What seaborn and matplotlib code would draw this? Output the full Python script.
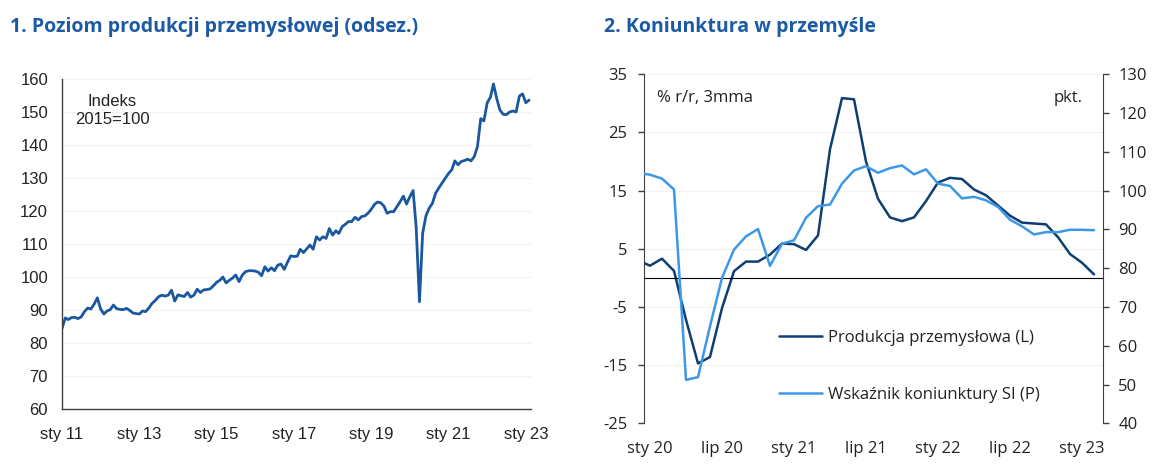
import numpy as np
import pandas as pd
import matplotlib
matplotlib.use("Agg")
import matplotlib.pyplot as plt
import seaborn as sns

# --- chart 1: industrial production index (sa), 2015=100, monthly from Jan 2011
prod_index = [
    84.4, 87.6, 87.1, 87.7, 87.8, 87.4, 87.9, 89.5, 90.6, 90.3, 91.8, 93.7,   # 2011
    90.3, 88.8, 89.7, 90.1, 91.5, 90.4, 90.2, 90.1, 90.5, 89.9, 89.1, 88.9,   # 2012
    88.8, 89.7, 89.5, 90.6, 92.0, 92.9, 94.0, 94.5, 94.2, 94.5, 96.0, 92.7,   # 2013
    94.6, 94.3, 94.1, 95.3, 93.9, 94.5, 96.3, 95.3, 96.1, 96.2, 96.4, 97.3,   # 2014
    98.4, 99.0, 100.0, 98.2, 99.0, 99.7, 100.6, 98.6, 100.6, 101.6, 101.9, 101.9,  # 2015
    101.8, 101.4, 100.4, 103.1, 101.8, 102.8, 101.9, 103.6, 103.9, 102.3, 104.5, 106.4,  # 2016
    106.2, 106.3, 108.4, 107.4, 108.5, 109.7, 108.4, 112.2, 111.2, 112.2, 111.7, 114.7,  # 2017
    112.7, 114.0, 113.2, 115.2, 116.0, 116.8, 116.8, 118.1, 117.3, 118.3, 118.5, 119.3,  # 2018
    120.5, 122.0, 122.7, 122.5, 121.5, 119.3, 119.8, 119.8, 121.3, 122.8, 124.5, 122.1,  # 2019
    124.3, 126.2, 115.0, 92.5, 113.2, 118.5, 120.8, 122.3, 125.4, 127.0, 128.5, 129.9,  # 2020
    131.4, 132.5, 135.2, 134.0, 135.0, 135.3, 135.7, 135.2, 136.5, 139.5, 148.0, 147.3,  # 2021
    152.8, 154.5, 158.5, 154.1, 150.6, 149.3, 149.2, 150.0, 150.3, 150.0, 154.8, 155.5,  # 2022
    152.8, 153.6,  # 2023
]
prod_dates = pd.date_range("2011-01-01", periods=len(prod_index), freq="MS")
left_tick_years = [2011, 2013, 2015, 2017, 2019, 2021, 2023]
left_tick_labels = ["sty 11", "sty 13", "sty 15", "sty 17", "sty 19", "sty 21", "sty 23"]

# --- chart 2: production y/y 3mma (L) and sentiment SI (P), monthly Dec 2019 - Feb 2023
month_idx = np.arange(-1, 38)  # 0 = Jan 2020
prod_yoy = [3.0, 2.1, 3.3, 1.2, -7.2, -14.7, -13.6, -5.2, 1.15, 2.8, 2.8, 4.0,
            5.9, 5.8, 4.8, 7.3, 22.1, 30.9, 30.7, 20.0, 13.6, 10.4, 9.75, 10.4,
            13.2, 16.4, 17.2, 17.0, 15.2, 14.2, 12.45, 10.7, 9.5, 9.35, 9.2, 7.0,
            4.1, 2.6, 0.6]
si_index = [104.6, 104.1, 103.1, 100.3, 51.2, 51.9, 65.0, 77.5, 84.8, 88.2, 90.1, 80.6,
            86.3, 87.2, 93.0, 96.0, 96.4, 101.8, 105.2, 106.3, 104.6, 105.8, 106.5, 104.2,
            105.5, 101.8, 101.2, 98.0, 98.4, 97.5, 95.8, 92.5, 90.8, 88.7, 89.3, 89.3,
            89.9, 89.9, 89.8]
right_tick_pos = [0, 6, 12, 18, 24, 30, 36]
right_tick_labels = ["sty 20", "lip 20", "sty 21", "lip 21", "sty 22", "lip 22", "sty 23"]

TITLE_C = "#1c5aa5"
LINE1 = "#1b579f"
DARK = "#0e3e72"
LIGHT = "#3d98e8"
AX_C = "#404040"
W, H = 1170, 470

sns.set_style("white")
plt.rcParams["font.family"] = ["Open Sans", "DejaVu Sans"]
plt.rcParams["axes.unicode_minus"] = False

fig = plt.figure(figsize=(W / 100, H / 100), dpi=100)

# ---------------- left chart
ax1 = fig.add_axes([62 / W, 1 - 409 / H, 469 / W, 330 / H])
sns.lineplot(x=prod_dates, y=prod_index, ax=ax1, color=LINE1, lw=2.0)
ax1.set_ylim(60, 160)
ax1.set_yticks(range(60, 161, 10))
ax1.set_xlim(pd.Timestamp("2011-01-01"), pd.Timestamp("2023-02-19"))
ax1.set_xticks([pd.Timestamp(f"{y}-01-01") for y in left_tick_years])
ax1.set_xticklabels(left_tick_labels)
ax1.grid(axis="y", color="#f2f2f2", lw=0.8)
ax1.grid(axis="x", visible=False)
for s in ["top", "right"]:
    ax1.spines[s].set_visible(False)
for s in ["left", "bottom"]:
    ax1.spines[s].set_color(AX_C)
    ax1.spines[s].set_linewidth(1.0)
ax1.tick_params(axis="both", direction="out", length=4, width=1, color=AX_C,
                labelsize=12, labelcolor="#222222")
ax1.tick_params(axis="y", pad=6)
ax1.tick_params(axis="x", pad=9)
for lab in ax1.get_xticklabels() + ax1.get_yticklabels():
    lab.set_fontfamily("Liberation Sans")
ax1.set_xlabel("")
ax1.set_ylabel("")
ax1.text(0.107, 0.905, "Indeks\n2015=100", transform=ax1.transAxes, ha="center",
         va="center", fontsize=12, linespacing=1.25, color="#222222",
         family="Liberation Sans")

# ---------------- right chart
ax2 = fig.add_axes([644 / W, 1 - 423.3 / H, 459 / W, 349 / H])
sns.lineplot(x=month_idx, y=prod_yoy, ax=ax2, color=DARK, lw=1.8,
             label="Produkcja przemysłowa (L)")
ax2.set_ylim(-25, 35)
ax2.set_yticks(range(-25, 36, 10))
ax2.set_xlim(-0.5, 37.75)
ax2.grid(axis="y", color="#f2f2f2", lw=0.8)
ax2.grid(axis="x", visible=False)
ax2.spines["top"].set_visible(False)
ax2.spines["right"].set_visible(False)
ax2.spines["left"].set_color(AX_C)
ax2.spines["bottom"].set_position(("data", 0))
ax2.spines["bottom"].set_color("black")
ax2.set_xticks(np.arange(-0.5, 36, 6))
ax2.set_xticklabels([])
ax2.tick_params(axis="x", direction="out", length=4, width=1, color="black")
ax2.tick_params(axis="y", direction="out", length=4, width=1, color=AX_C,
                labelsize=12, labelcolor="#222222", pad=8)
ax2.set_xlabel("")
ax2.set_ylabel("")

sec = ax2.secondary_xaxis("bottom")
sec.set_xticks(right_tick_pos)
sec.set_xticklabels(right_tick_labels)
sec.tick_params(length=0, pad=13, labelsize=12, labelcolor="#222222")
sec.spines["bottom"].set_visible(False)

ax2r = ax2.twinx()
sns.lineplot(x=month_idx, y=si_index, ax=ax2r, color=LIGHT, lw=1.8,
             label="Wskaźnik koniunktury SI (P)")
ax2r.set_ylim(40, 130)
ax2r.set_yticks(range(40, 131, 10))
for s in ["top", "left", "bottom"]:
    ax2r.spines[s].set_visible(False)
ax2r.spines["right"].set_color(AX_C)
ax2r.tick_params(axis="y", direction="out", length=4, width=1, color=AX_C,
                 labelsize=12, labelcolor="#222222", pad=7)
ax2r.set_ylabel("")

h1, l1 = ax2.get_legend_handles_labels()
h2, l2 = ax2r.get_legend_handles_labels()
ax2.get_legend().remove()
ax2r.get_legend().remove()
fig.legend(h1 + h2, l1 + l2, loc="upper left", bbox_to_anchor=(779 / W, 1 - 330 / H),
           frameon=False, fontsize=12, labelspacing=2.45, handlelength=2.6,
           handletextpad=0.35, borderpad=0, borderaxespad=0, labelcolor="#222222")

ax2.text(0.028, 0.933, "% r/r, 3mma", transform=ax2.transAxes, ha="left", va="center",
         fontsize=12, color="#222222")
ax2.text(0.893, 0.933, "pkt.", transform=ax2.transAxes, ha="left", va="center",
         fontsize=12, color="#222222")

# ---------------- titles
fig.text(10 / W, 1 - 27 / H, "1. Poziom produkcji przemysłowej (odsez.)", ha="left",
         va="center", fontsize=14, fontweight="bold", color=TITLE_C)
fig.text(604 / W, 1 - 27 / H, "2. Koniunktura w przemyśle", ha="left",
         va="center", fontsize=14, fontweight="bold", color=TITLE_C)

fig.savefig("out.png", dpi=100)
